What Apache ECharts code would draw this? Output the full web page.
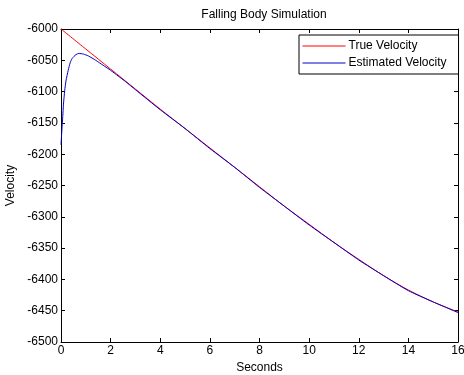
<!DOCTYPE html>
<html>
<head>
<meta charset="utf-8">
<script src="https://cdn.jsdelivr.net/npm/echarts@6/dist/echarts.min.js"></script>
<style>html,body{margin:0;padding:0;background:#fff}#c{width:464px;height:375px}</style>
</head>
<body>
<div id="c"></div>
<script>
var titleText = 'Falling Body Simulation';
var xName = 'Seconds';
var yName = 'Velocity';
var seriesNames = ['True Velocity', 'Estimated Velocity'];

var trueT = [0, 1, 2, 3, 4, 5, 6, 7, 8, 9, 10, 11, 12, 13, 14, 15, 16];
var trueV = [-6000, -6032, -6064, -6096, -6128, -6159, -6190, -6221, -6252, -6283, -6312, -6341, -6368, -6394, -6417, -6436, -6452];

var estT = [0, 0.03, 0.07, 0.1, 0.15, 0.2, 0.29, 0.37, 0.45, 0.6, 0.72, 0.9, 1.1, 1.4, 1.7, 2.0, 2.3, 2.6, 3, 4, 5, 6, 7, 8, 9, 10, 11, 12, 13, 14, 15, 16];
var estV = [-6185, -6165, -6140, -6120, -6098, -6083, -6066, -6054, -6047, -6041, -6039, -6040, -6043, -6050, -6058, -6066, -6075, -6084, -6097, -6129, -6159, -6191, -6221, -6253, -6283, -6313, -6341, -6369, -6394, -6418, -6436, -6453];

function pairs(t, v) { return t.map(function (x, i) { return [x, v[i]]; }); }

var font = 'Liberation Sans, Arial, sans-serif';
var fs = 12;
var chart = echarts.init(document.getElementById('c'), null, {renderer: 'canvas'});
var axisLine = {show: true, onZero: false, lineStyle: {color: '#000', width: 1}};
var tick = {show: true, inside: true, length: 4, lineStyle: {color: '#000'}};
var plain = function (v) { return String(v); };
chart.setOption({
  animation: false,
  backgroundColor: '#fff',
  title: {
    text: titleText, left: 259, top: 4, textAlign: 'center',
    textStyle: {fontFamily: font, fontSize: fs, fontWeight: 'normal', color: '#000'}
  },
  legend: {
    orient: 'vertical', left: 299, top: 35,
    data: seriesNames,
    itemWidth: 43, itemHeight: 12, itemGap: 5,
    padding: [5, 12, 5, 3],
    borderColor: '#000', borderWidth: 1, backgroundColor: '#fff',
    itemStyle: {opacity: 0},
    lineStyle: {width: 1},
    textStyle: {fontFamily: font, fontSize: fs, color: '#000', padding: [0, 0, 0, -2]}
  },
  grid: {left: 61, right: 6, top: 29, bottom: 33, containLabel: false, outerBoundsMode: 'none'},
  xAxis: [{
    type: 'value', min: 0, max: 16, interval: 2,
    name: xName, nameLocation: 'middle', nameGap: 16,
    nameTextStyle: {fontFamily: font, fontSize: fs, color: '#000'},
    axisLine: axisLine, axisTick: tick,
    axisLabel: {fontFamily: font, fontSize: fs, color: '#000', margin: 3, formatter: plain},
    splitLine: {show: false}
  }, {
    type: 'value', min: 0, max: 16, interval: 2, position: 'top',
    axisLine: axisLine, axisTick: tick, axisLabel: {show: false}, splitLine: {show: false}
  }],
  yAxis: [{
    type: 'value', min: -6500, max: -6000, interval: 50,
    name: yName, nameLocation: 'middle', nameGap: 40, nameRotate: 90,
    nameTextStyle: {fontFamily: font, fontSize: fs, color: '#000'},
    axisLine: axisLine, axisTick: tick,
    axisLabel: {fontFamily: font, fontSize: fs, color: '#000', margin: 3, formatter: plain},
    splitLine: {show: false}
  }, {
    type: 'value', min: -6500, max: -6000, interval: 50, position: 'right',
    axisLine: axisLine, axisTick: tick, axisLabel: {show: false}, splitLine: {show: false}
  }],
  series: [{
    name: seriesNames[0], type: 'line', data: pairs(trueT, trueV),
    symbol: 'none', smooth: 0.3, color: '#ff0000',
    lineStyle: {color: '#ff0000', width: 1}
  }, {
    name: seriesNames[1], type: 'line', data: pairs(estT, estV),
    symbol: 'none', smooth: 0.2, color: '#0000cc',
    lineStyle: {color: '#0000cc', width: 1}
  }]
});
</script>
</body>
</html>
